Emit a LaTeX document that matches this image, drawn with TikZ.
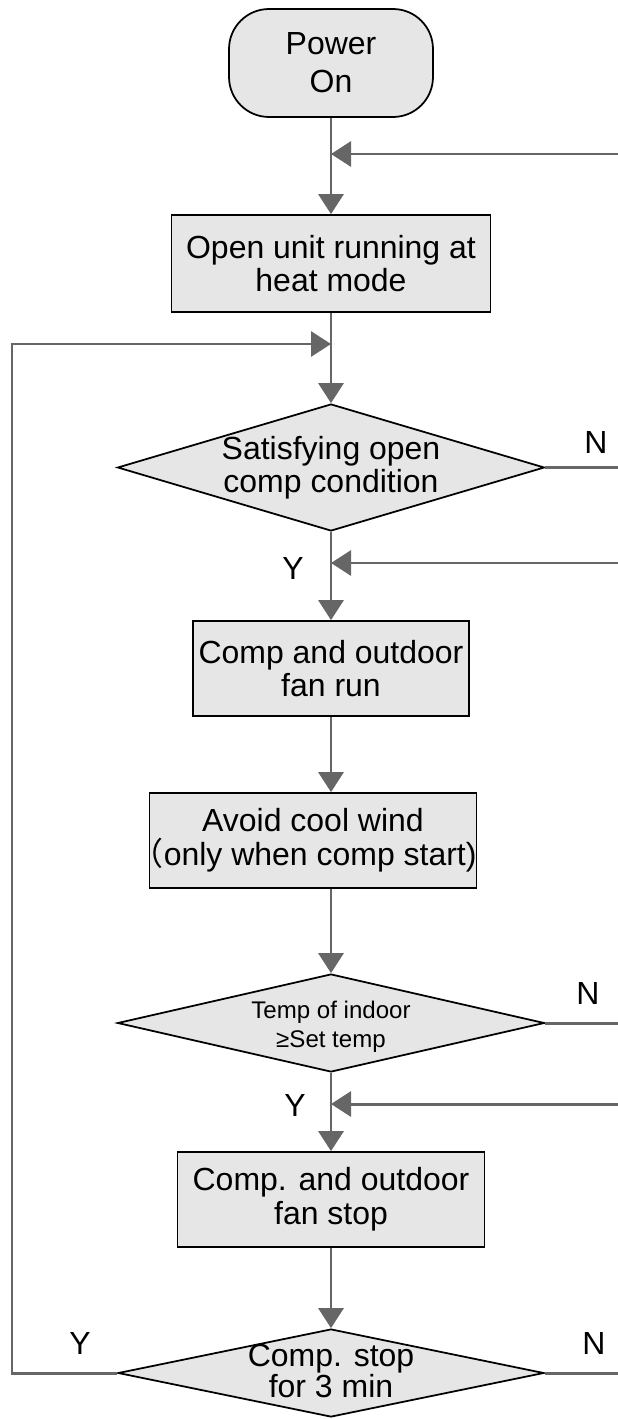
\documentclass[tikz,border=0pt]{standalone}
\usepackage{fontspec}
\setmainfont{Liberation Sans}
\newfontfamily\cjk{Noto Sans CJK SC}
\usetikzlibrary{arrows.meta,shapes.geometric}
\definecolor{boxfill}{HTML}{E6E6E6}
\definecolor{flowgray}{HTML}{666666}

\begin{document}
\begin{tikzpicture}
        [x=0.02cm, y=-0.02cm,
        box/.style={rectangle, draw=black, line width=1pt, fill=boxfill, inner sep=0pt, align=center, font=\fontsize{18.2}{19.2}\selectfont},
        startbox/.style={box, rounded corners=0.8cm, font=\fontsize{18.2}{21.5}\selectfont},
        decision/.style={diamond, draw=black, line width=1pt, fill=boxfill, inner sep=0pt},
        dtext/.style={align=center, inner sep=0pt, font=\fontsize{18.2}{18.8}\selectfont},
        yn/.style={inner sep=0pt, font=\fontsize{18.2}{18.8}\selectfont},
        flow/.style={draw=flowgray, line width=1.7pt, -{Triangle[length=0.4cm, width=0.5cm]}},
        plain/.style={draw=flowgray, line width=1.7pt}]

        \useasboundingbox (0,0) rectangle (618,1419);

        % Boxes down the main line
        \node[startbox, minimum width=4.08cm, minimum height=2.16cm] (power) at (331,63) {Power\\On};
        \node[box, minimum width=6.38cm, minimum height=1.94cm] (open) at (331,263.5) {Open unit running at\\heat mode};
        \node[decision, minimum width=8.54cm, minimum height=2.54cm] (cond) at (331,467.5) {};
        \node[dtext] (condtxt) at (cond) {Satisfying open\\comp condition};
        \node[box, minimum width=5.52cm, minimum height=1.9cm] (run) at (331,668.5) {Comp and outdoor\\fan run};
        \node[box, minimum width=6.42cm, minimum height=1.9cm] (wind) at (313,840.5) {Avoid cool wind\\\makebox[0.45em][r]{\cjk （}only when comp start)};
        \node[decision, minimum width=8.54cm, minimum height=1.96cm] (temp) at (331,1023) {};
        \node[dtext, font=\fontsize{13.7}{16.5}\selectfont] (temptxt) at (331,1027) {Temp of indoor\\≥Set temp};
        \node[box, minimum width=6.14cm, minimum height=1.9cm] (stop) at (331,1199.5) {Comp. and outdoor\\fan stop};
        \node[decision, minimum width=8.52cm, minimum height=1.76cm] (wait) at (331,1373) {};
        \node[dtext, font=\fontsize{18.2}{16.4}\selectfont] (waittxt) at (331,1371) {Comp. stop\\for 3 min};

        % Y / N labels
        \node[yn] (y1) at (293,568) {Y};
        \node[yn] (n1) at (596,442) {N};
        \node[yn] (y2) at (295,1105) {Y};
        \node[yn] (n2) at (588,993) {N};
        \node[yn] (y3) at (80,1343) {Y};
        \node[yn] (n3) at (594,1343) {N};

        % Free ends at the right edge
        \coordinate (back1) at (618,154);
        \coordinate (back2) at (618,563);
        \coordinate (back3) at (618,1104);
        \coordinate (out1) at (618,467.5);
        \coordinate (out2) at (618,1023);
        \coordinate (out3) at (618,1373);
        \coordinate (loop) at (12,344);

        % Main flow
        \draw[flow] (power) -- (open);
        \draw[flow] (open) -- (cond);
        \draw[flow] (cond) -- (run);
        \draw[flow] (run.south) -- (run.south |- wind.north);
        \draw[flow] (wind.south -| temp) -- (temp);
        \draw[flow] (temp) -- (stop);
        \draw[flow] (stop) -- (wait);

        % Returns from the right
        \draw[flow] (back1) -- (back1 -| power);
        \draw[flow] (back2) -- (back2 -| cond);
        \draw[flow] (back3) -- (back3 -| temp);

        % N branches
        \draw[plain] (cond.east) -- (out1);
        \draw[plain] (temp.east) -- (out2);
        \draw[plain] (wait.east) -- (out3);

        % Y branch back to the top
        \draw[flow] (wait.west) -| (loop) -- (loop -| open);

    \end{tikzpicture}
\end{document}
